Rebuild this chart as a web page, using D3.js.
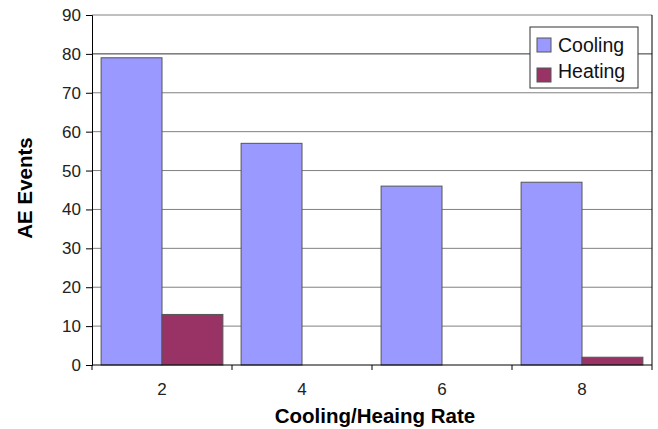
<!DOCTYPE html>
<html><head><meta charset="utf-8">
<script src="https://cdn.jsdelivr.net/npm/d3@7"></script>
<style>body{margin:0;background:#fff}svg{display:block}text{font-family:"Liberation Sans",Arial,sans-serif}</style>
</head><body>
<script>
const categories = ["2","4","6","8"];
const seriesNames = ["Cooling","Heating"];
const cooling = [79,57,46,47];
const heating = [13,0,0,2];
const yTicks = [0,10,20,30,40,50,60,70,80,90];
const colors = ["#9999FF","#993366"];

const W=658,H=429;
const m={left:92,right:6,top:15,bottom:64};
const svg=d3.select("body").append("svg").attr("width",W).attr("height",H);
const pw=W-m.left-m.right, ph=H-m.top-m.bottom;
const g=svg.append("g").attr("transform",`translate(${m.left},${m.top})`);

const x=d3.scaleBand().domain(categories).range([0,pw]).paddingInner(0.13).paddingOuter(0.065);
const xs=d3.scaleBand().domain(seriesNames).range([0,x.bandwidth()]);
const y=d3.scaleLinear().domain([0,90]).range([ph,0]);

// gridlines
g.selectAll(".grid").data(yTicks.filter(d=>d>0)).join("line")
 .attr("x1",0).attr("x2",pw).attr("y1",d=>y(d)).attr("y2",d=>y(d))
 .attr("stroke",d=>d===80?"#333":"#808080").attr("stroke-width",1);
// right border
g.append("line").attr("x1",pw).attr("x2",pw).attr("y1",0).attr("y2",ph).attr("stroke","#000");

const data=[cooling,heating];
data.forEach((vals,si)=>{
  g.selectAll(".b"+si).data(vals).join("rect")
   .attr("x",(d,i)=>x(categories[i])+xs(seriesNames[si]))
   .attr("y",d=>y(d)).attr("width",xs.bandwidth()).attr("height",d=>ph-y(d))
   .attr("fill",colors[si]).attr("stroke",d=>d>0?"#555":"none").attr("stroke-width",1);
});

// y axis
const ya=g.append("g").call(d3.axisLeft(y).tickValues(yTicks).tickSize(6).tickPadding(5));
ya.select(".domain").attr("stroke","#000");
ya.selectAll("text").attr("font-size",17).attr("fill","#222");
// x axis
const xa=g.append("g").attr("transform",`translate(0,${ph})`);
xa.append("line").attr("x1",0).attr("x2",pw).attr("stroke","#000");
const bounds=[0,1,2,3,4].map(i=>i*pw/4);
xa.selectAll(".xt").data(bounds).join("line").attr("x1",d=>d).attr("x2",d=>d).attr("y1",0).attr("y2",5).attr("stroke","#000");
xa.selectAll(".xl").data(categories).join("text")
 .attr("x",d=>x(d)+x.bandwidth()/2).attr("y",30).attr("text-anchor","middle")
 .attr("font-size",17).attr("fill","#222").text(d=>d);

// axis titles
svg.append("text").attr("transform",`translate(32,188) rotate(-90)`)
 .attr("text-anchor","middle").attr("font-size",20.5).attr("font-weight","bold").text("AE Events");
svg.append("text").attr("x",375).attr("y",423).attr("text-anchor","middle")
 .attr("font-size",20.5).attr("font-weight","bold").text("Cooling/Heaing Rate");

// legend
const lg=svg.append("g").attr("transform","translate(530,27)");
lg.append("rect").attr("width",108).attr("height",61).attr("fill","#fff").attr("stroke","#333");
seriesNames.forEach((n,i)=>{
  lg.append("rect").attr("x",7).attr("y",11+i*30).attr("width",14).attr("height",14)
    .attr("fill",colors[i]).attr("stroke","#555");
  lg.append("text").attr("x",28).attr("y",24.5+i*26.5).attr("font-size",19.5).attr("fill","#111").text(n);
});
</script>
</body></html>
